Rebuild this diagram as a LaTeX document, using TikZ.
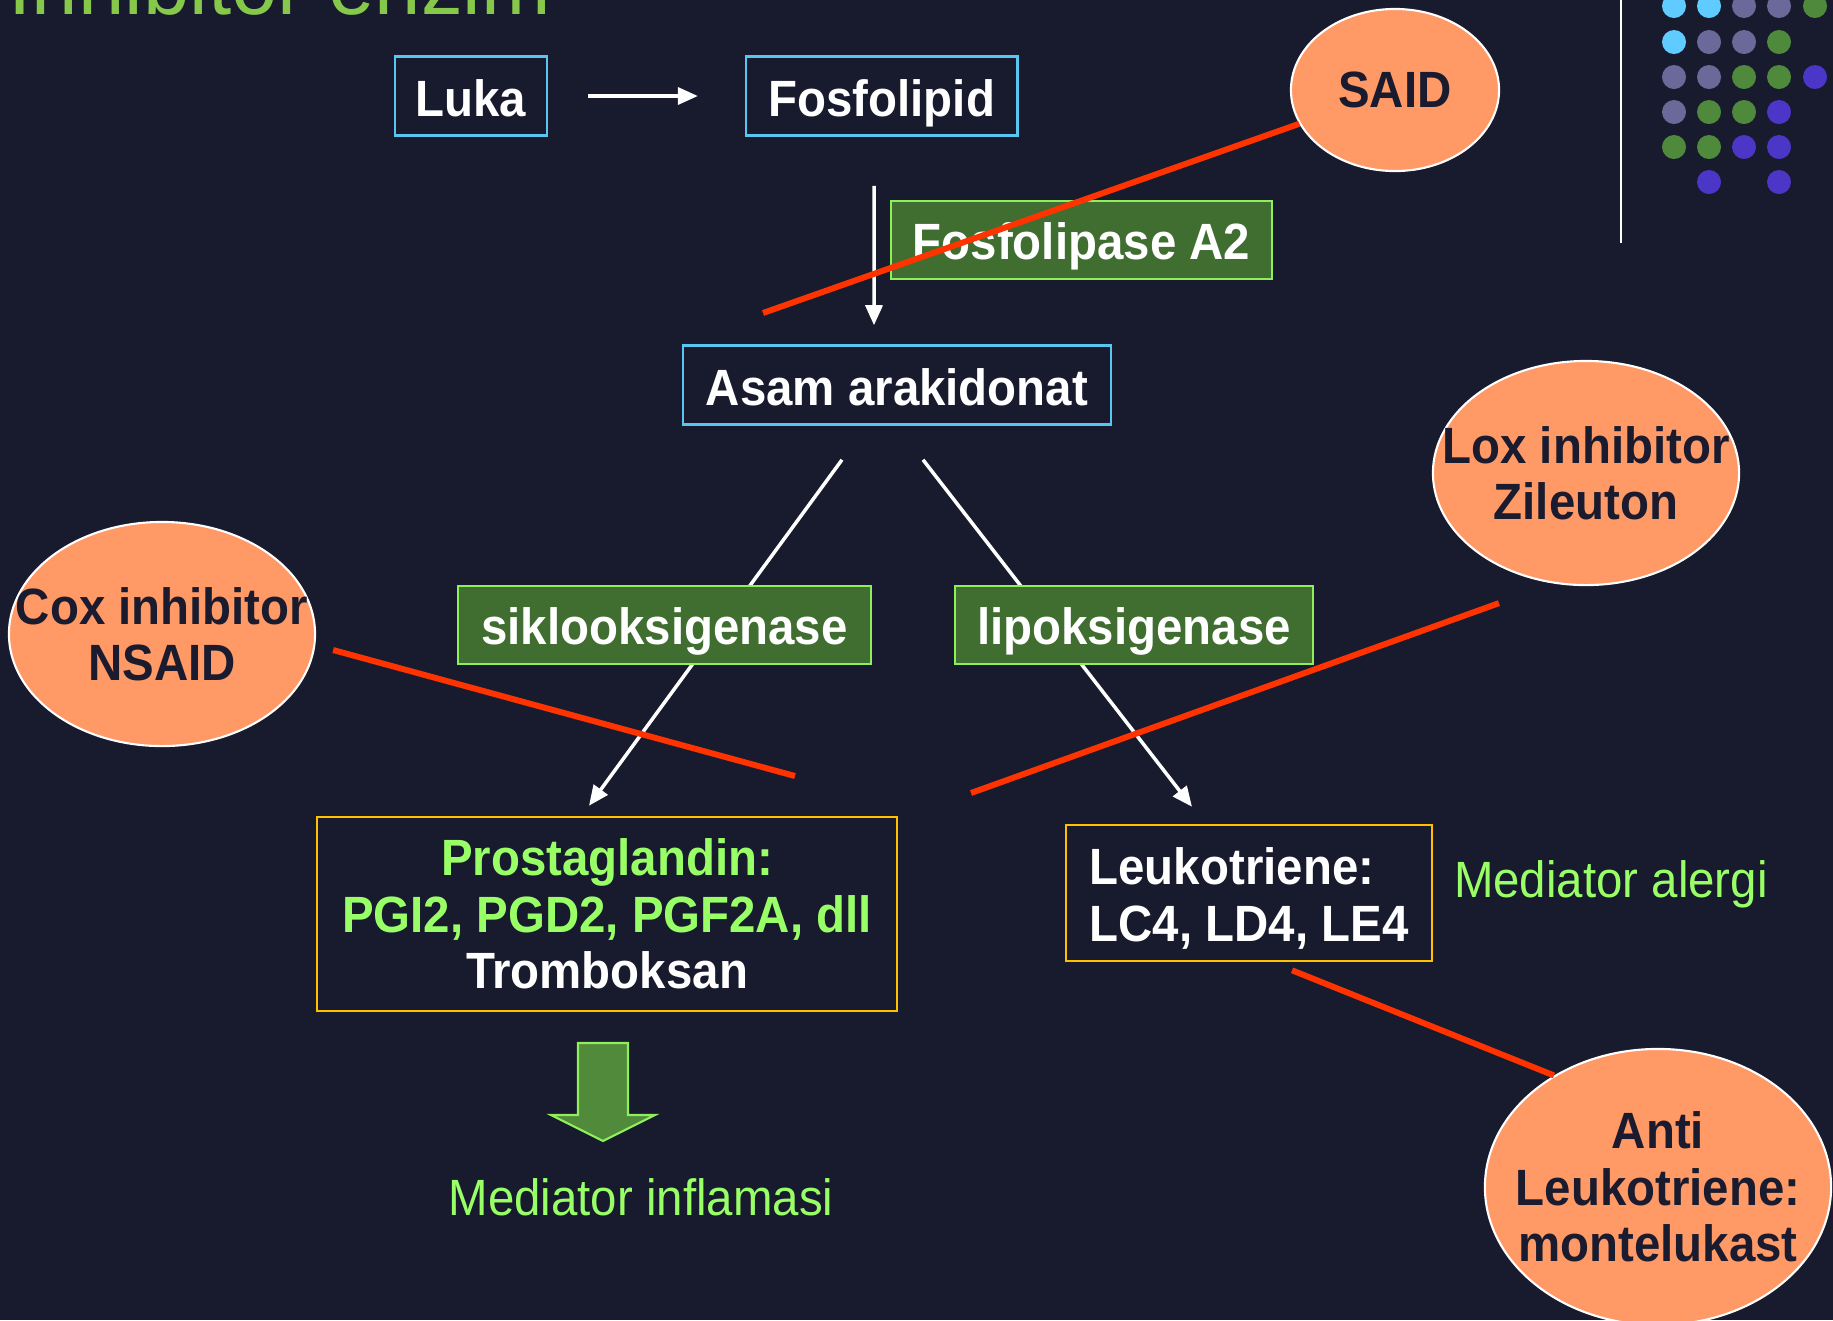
\documentclass[tikz,border=0pt]{standalone}
\usepackage{fontspec}
\setmainfont{Liberation Sans}[FakeStretch=0.93]
\usepackage{tikz}
\usetikzlibrary{arrows.meta,positioning,shapes.geometric}
\definecolor{SlideBg}{HTML}{181A2D}
\definecolor{BoxBlue}{HTML}{5BC5F2}
\definecolor{EnzFill}{HTML}{3F6E30}
\definecolor{EnzLine}{HTML}{8FEF5A}
\definecolor{MedGreen}{HTML}{99FF66}
\definecolor{TitleGreen}{HTML}{86C94A}
\definecolor{ProdGold}{HTML}{FFC000}
\definecolor{DrugFill}{HTML}{FF9966}
\definecolor{DrugInk}{HTML}{1A1B2E}
\definecolor{BlockRed}{HTML}{FF3300}
\definecolor{DotCyan}{HTML}{5FCBFF}
\definecolor{DotGrey}{HTML}{6A6A9A}
\definecolor{DotGreen}{HTML}{4F8A3C}
\definecolor{DotBlue}{HTML}{4B36C8}
\definecolor{ArrowFill}{HTML}{508A3A}

\begin{document}
\begin{tikzpicture}[x=0.01cm,y=-0.01cm, every node/.style={font=\fontsize{14.5}{16}\selectfont\bfseries,text=white}, sub/.style={draw=BoxBlue,line width=0.7pt,inner sep=0pt,minimum height=7.9mm,text height=12.4pt,text depth=1pt}, enz/.style={draw=EnzLine,line width=0.7pt,fill=EnzFill,inner sep=0pt,minimum height=7.8mm,text height=11.7pt,text depth=0.6pt}, prod/.style={draw=ProdGold,line width=0.7pt,inner sep=0pt,align=center}, drug/.style={ellipse,draw=white,line width=0.6pt,fill=DrugFill,inner sep=0pt}, drugtxt/.style={text=DrugInk,align=center}, note/.style={font=\fontsize{14.5}{16}\selectfont,text=MedGreen,inner sep=0pt}, flow/.style={-{Triangle[length=2mm,width=1.7mm]},white,line width=1pt}, block/.style={BlockRed,line width=1.7pt}]
\useasboundingbox (0,0) rectangle (1833,1320);
\fill[SlideBg] (0,0) rectangle (1833,1320);
% slide title and corner decoration
\node[anchor=base west,inner sep=0pt,font=\fontsize{25.5}{30}\selectfont,text=TitleGreen] (title) at (8,14) {Inhibitor enzim};
\draw[white,line width=0.8pt] (1621,0) -- (1621,243);
\foreach \cx/\cy/\cc in {1674/6/DotCyan,1709/6/DotCyan,1744/6/DotGrey,1779/6/DotGrey,1815/6/DotGreen,
  1674/42/DotCyan,1709/42/DotGrey,1744/42/DotGrey,1779/42/DotGreen,
  1674/77/DotGrey,1709/77/DotGrey,1744/77/DotGreen,1779/77/DotGreen,1815/77/DotBlue,
  1674/112/DotGrey,1709/112/DotGreen,1744/112/DotGreen,1779/112/DotBlue,
  1674/147/DotGreen,1709/147/DotGreen,1744/147/DotBlue,1779/147/DotBlue,
  1709/182/DotBlue,1779/182/DotBlue}
  \fill[\cc] (\cx,\cy) circle[radius=1.2mm];
% pathway
\node[sub,minimum width=15.2mm] (luka) at (471,96) {Luka};
\node[sub,minimum width=27.1mm,right=19.65mm of luka] (fosfo) {Fosfolipid};
\node[enz,minimum width=38.1mm] (pla) at (1081.5,240) {Fosfolipase A2};
\node[sub,minimum width=42.8mm] (asam) at (897,385) {Asam arakidonat};
\node[prod,minimum width=58mm,minimum height=19.4mm] (prost) at (607,914) {\textcolor{MedGreen}{Prostaglandin:}\\\textcolor{MedGreen}{PGI2, PGD2, PGF2A, dll}\\Tromboksan};
\node[prod,align=left,minimum width=36.6mm,minimum height=13.6mm] (leuk) at (1249,893) {\rule{0pt}{13.6pt}Leukotriene:\\LC4, LD4, LE4};
\node[note,right=2mm of leuk,yshift=0.9mm] (alergi) {Mediator alergi};
\draw[flow,shorten <=4mm,shorten >=4.7mm] (luka) -- (fosfo);
\draw[flow] ([xshift=-0.75mm,yshift=-4.9mm]fosfo.south) -- ([xshift=-2.3mm,yshift=1.9mm]asam.north);
\draw[flow] ([xshift=-5.5mm,yshift=-3.4mm]asam.south) -- ([xshift=-1.8mm,yshift=1mm]prost.north);
\draw[flow] ([xshift=2.6mm,yshift=-3.4mm]asam.south) -- ([xshift=-5.7mm,yshift=1.7mm]leuk.north);
\node[enz,minimum width=41.3mm] (cyclo) at (664.5,625) {siklooksigenase};
\node[enz,minimum width=35.8mm] (lipo) at (1134,625) {lipoksigenase};
\draw[EnzLine,fill=ArrowFill,line width=0.6pt] (578,1043) -- (628,1043) -- (628,1115) -- (655,1115) -- (603,1141) -- (551,1115) -- (578,1115) -- cycle;
\node[note] (inflam) at (641,1197) {Mediator inflamasi};
% inhibitors
\node[drug,minimum width=20.8mm,minimum height=16.2mm] (said) at (1395,90) {};
\node[drugtxt] at (said) {SAID};
\node[drug,minimum width=30.6mm,minimum height=22.4mm] (cox) at (162,634) {};
\node[drugtxt] at (cox) {Cox inhibitor\\NSAID};
\node[drug,minimum width=30.6mm,minimum height=22.4mm] (lox) at (1586,473) {};
\node[drugtxt] at (lox) {Lox inhibitor\\Zileuton};
\node[drug,minimum width=34.6mm,minimum height=27.6mm] (anti) at (1658,1187) {};
\node[drugtxt] at (anti) {Anti\\Leukotriene:\\montelukast};
\coordinate (saidEnd) at (763,313);
\coordinate (coxEnd) at (795,776);
\coordinate (loxEnd) at (971,793);
\draw[block] (said) -- (saidEnd);
\draw[block] ([xshift=1.7mm,yshift=-1.6mm]cox.east) -- (coxEnd);
\draw[block] ([xshift=-8.7mm,yshift=-1.7mm]lox.south) -- (loxEnd);
\draw[block] ([xshift=4.3mm,yshift=-0.8mm]leuk.south) -- (anti.133);
\end{tikzpicture}
\end{document}
